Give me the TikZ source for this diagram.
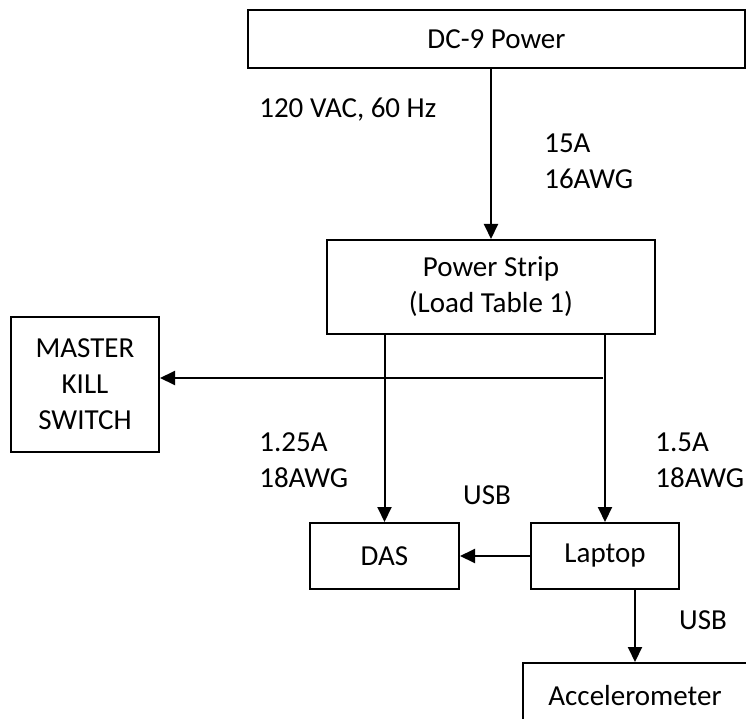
\documentclass[tikz,border=0pt]{standalone}
\usepackage{fontspec}
\setmainfont{Carlito}
\usetikzlibrary{arrows.meta}
\begin{document}
\begin{tikzpicture}[x=1pt, y=-1pt, line width=2pt, >={Triangle[length=15pt,width=14pt]},
    every node/.style={font=\fontsize{29}{36}\selectfont},
    blk/.style={draw, line width=2pt, inner sep=0pt, align=center}]
    \useasboundingbox (0,0) rectangle (746,719);
    \node[blk, minimum width=497pt, minimum height=58pt] (dc9) at (496.5,39) {DC-9 Power};
    \node[blk, minimum width=328pt, minimum height=94pt] (strip) at (491,287) {Power Strip\\(Load Table 1)};
    \node[blk, minimum width=148pt, minimum height=135pt] (kill) at (85,384.5) {MASTER\\KILL\\SWITCH};
    \node[blk, minimum width=149pt, minimum height=66pt] (das) at (384.5,556) {DAS};
    \node[blk, minimum width=148pt, minimum height=66pt] (laptop) at (605,556) {Laptop};
    \node[blk, minimum width=224pt, minimum height=66pt] (accel) at (635,696) {Accelerometer};
    \coordinate (tap) at (603,378);
    \draw[->] (strip.north |- dc9.south) -- (strip.north);
    \draw[->] (das.north |- strip.south) -- (das.north);
    \draw[->] (laptop.north |- strip.south) -- (laptop.north);
    \draw[->] (tap) -- (tap -| kill.east);
    \draw[->] (laptop.west) -- (das.east);
    \draw[->] (laptop.south -| accel.north) -- (accel.north);
    \node[anchor=west] (supply) at (255,110) {120 VAC, 60 Hz};
    \node[anchor=west, align=left] (main) at (540,161.5) {15A\\16AWG};
    \node[anchor=west, align=left] (dasfeed) at (255,460) {1.25A\\18AWG};
    \node[anchor=west, align=left] (lapfeed) at (651,460) {1.5A\\18AWG};
    \node (usbdas) at (487,495) {USB};
    \node (usbacc) at (703,620) {USB};
\end{tikzpicture}
\end{document}
